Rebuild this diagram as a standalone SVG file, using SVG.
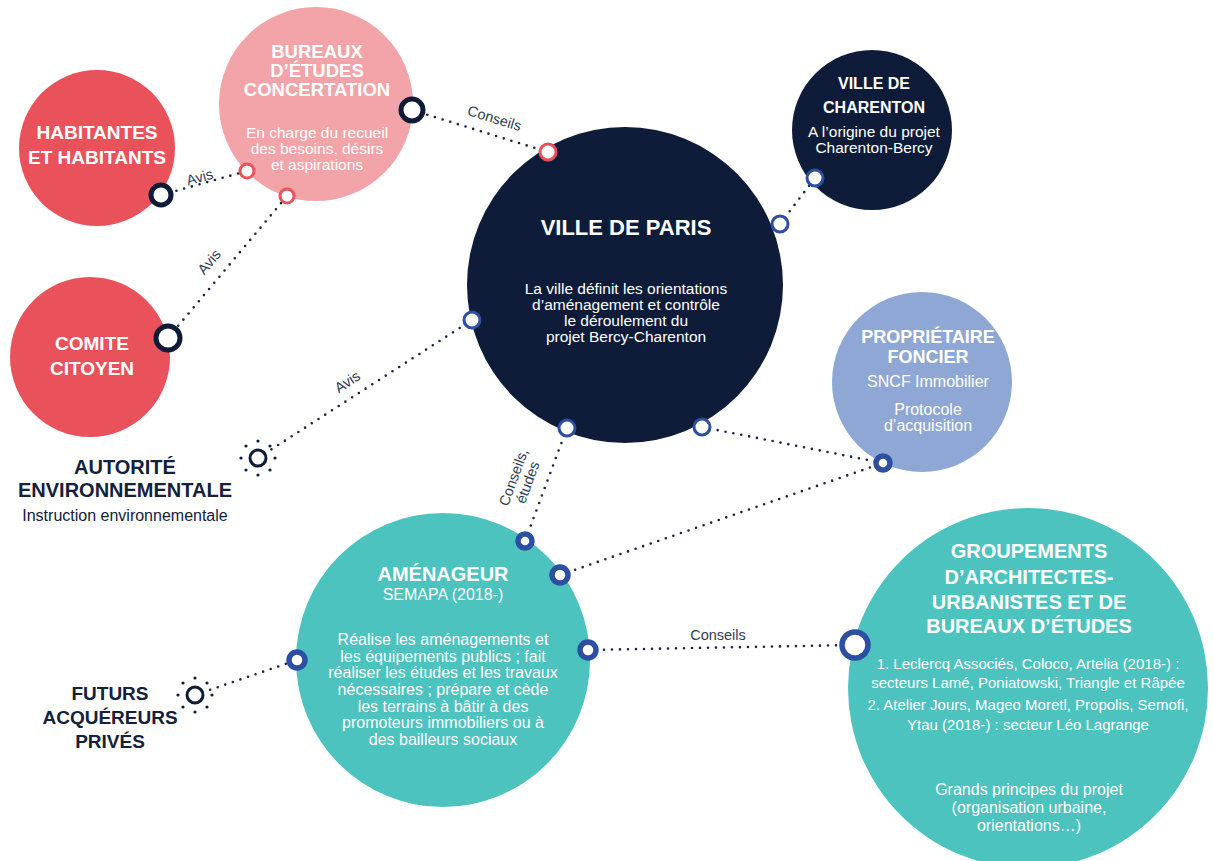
<svg xmlns="http://www.w3.org/2000/svg" width="1213" height="861" viewBox="0 0 1213 861">
<style>
text{font-family:"Liberation Sans",Arial,sans-serif;text-anchor:middle}
.h{font-weight:bold;fill:#fff}
.w{fill:#fff}
.d{font-weight:bold;fill:#13213d}
.dl{fill:#13213d}
.lab{fill:#2f3b55;font-size:14.5px}
.con{fill:none;stroke:#1a2440;stroke-width:2.6;stroke-linecap:round;stroke-dasharray:0 8}
.rd{fill:#fff;stroke:#0e1c3a;stroke-width:5}
.rr{fill:#fff;stroke:#e9515b;stroke-width:3}
.rb{fill:#fff;stroke:#2c4fa3;stroke-width:3}
.rbt{fill:#fff;stroke:#2c4fa3;stroke-width:5.5}
.rs{fill:#fff;stroke:#0e1c3a;stroke-width:3}
.dot{fill:#0e1c3a}
</style>
<rect width="1213" height="861" fill="#fff"/>
<g id="connectors">
<line class="con" x1="161" y1="195" x2="247" y2="171"/>
<line class="con" x1="168" y1="338" x2="287" y2="196"/>
<line class="con" x1="412" y1="110" x2="548" y2="152"/>
<line class="con" x1="780" y1="224" x2="815" y2="178"/>
<line class="con" x1="258" y1="458" x2="472" y2="320"/>
<line class="con" x1="567" y1="428" x2="525" y2="541"/>
<line class="con" x1="702" y1="427" x2="883" y2="463"/>
<line class="con" x1="560" y1="575" x2="883" y2="463"/>
<line class="con" x1="588" y1="650" x2="855" y2="645"/>
<line class="con" x1="195" y1="695" x2="297" y2="660"/>
<text class="lab" transform="translate(201,182) rotate(-15)">Avis</text>
<text class="lab" transform="translate(213,265) rotate(-50)">Avis</text>
<text class="lab" transform="translate(493,123) rotate(17)">Conseils</text>
<text class="lab" transform="translate(350,386) rotate(-33)">Avis</text>
<text class="lab" transform="translate(521,480) rotate(-70)"><tspan x="0" y="-3">Conseils,</tspan><tspan x="0" y="12">études</tspan></text>
<text class="lab" x="718" y="640">Conseils</text>
</g>
<g id="habitants">
<circle cx="97" cy="148" r="78" fill="#e9515b"/>
<text class="h" font-size="19"><tspan x="97" y="139">HABITANTES</tspan><tspan x="97" y="164">ET HABITANTS</tspan></text>
<circle class="rd" cx="161" cy="195" r="10"/>
</g>
<g id="bureaux">
<circle cx="316" cy="104" r="97" fill="#f2a4a8"/>
<text class="h" font-size="18.5"><tspan x="317" y="58">BUREAUX</tspan><tspan x="317" y="77">D’ÉTUDES</tspan><tspan x="317" y="96">CONCERTATION</tspan></text>
<text class="w" font-size="15.5"><tspan x="317" y="138">En charge du recueil</tspan><tspan x="317" y="154">des besoins, désirs</tspan><tspan x="317" y="170">et aspirations</tspan></text>
<circle class="rr" cx="247" cy="171" r="7"/>
<circle class="rr" cx="287" cy="196" r="7"/>
<circle class="rd" cx="412" cy="110" r="11"/>
</g>
<g id="comite">
<circle cx="90" cy="357" r="80" fill="#e9515b"/>
<text class="h" font-size="19"><tspan x="92" y="350">COMITE</tspan><tspan x="92" y="375">CITOYEN</tspan></text>
<circle class="rd" cx="168" cy="338" r="12"/>
</g>
<g id="paris">
<circle cx="625" cy="285" r="158" fill="#0e1c3a"/>
<text class="h" font-size="22" x="626" y="235">VILLE DE PARIS</text>
<text class="w" font-size="15.5"><tspan x="626" y="294">La ville définit les orientations</tspan><tspan x="626" y="310">d’aménagement et contrôle</tspan><tspan x="626" y="326">le déroulement du</tspan><tspan x="626" y="342">projet Bercy-Charenton</tspan></text>
<circle class="rr" cx="548" cy="152" r="8"/>
<circle class="rb" cx="780" cy="224" r="8"/>
<circle class="rb" cx="472" cy="320" r="8"/>
<circle class="rb" cx="567" cy="428" r="8"/>
<circle class="rb" cx="702" cy="427" r="8"/>
</g>
<g id="charenton">
<circle cx="872" cy="130" r="80" fill="#0e1c3a"/>
<text class="h" font-size="16"><tspan x="874" y="89">VILLE DE</tspan><tspan x="874" y="113">CHARENTON</tspan></text>
<text class="w" font-size="15.5"><tspan x="874" y="137">A l’origine du projet</tspan><tspan x="874" y="153">Charenton-Bercy</tspan></text>
<circle class="rb" cx="815" cy="178" r="8"/>
</g>
<g id="proprietaire">
<circle cx="922" cy="382" r="90" fill="#8fa7d4"/>
<text class="h" font-size="18"><tspan x="928" y="343">PROPRIÉTAIRE</tspan><tspan x="928" y="363">FONCIER</tspan></text>
<text class="w" font-size="16"><tspan x="928" y="387">SNCF Immobilier</tspan><tspan x="928" y="415">Protocole</tspan><tspan x="928" y="431">d’acquisition</tspan></text>
<circle class="rbt" cx="883" cy="463" r="7"/>
</g>
<g id="autorite">
<text class="d" font-size="20"><tspan x="125" y="474">AUTORITÉ</tspan><tspan x="125" y="497">ENVIRONNEMENTALE</tspan></text>
<text class="dl" font-size="16" x="125" y="521">Instruction environnementale</text>
<circle class="rs" cx="258" cy="458" r="8"/>
<g class="dot"><circle cx="275" cy="458" r="1.6"/><circle cx="270" cy="446" r="1.6"/><circle cx="258" cy="441" r="1.6"/><circle cx="246" cy="446" r="1.6"/><circle cx="241" cy="458" r="1.6"/><circle cx="246" cy="470" r="1.6"/><circle cx="258" cy="475" r="1.6"/><circle cx="270" cy="470" r="1.6"/></g>
</g>
<g id="amenageur">
<circle cx="443" cy="660" r="147" fill="#4cc3bf"/>
<text class="h" font-size="20" x="443" y="581">AMÉNAGEUR</text>
<text class="w" font-size="16" x="443" y="600">SEMAPA (2018-)</text>
<text class="w" font-size="16"><tspan x="443" y="645">Réalise les aménagements et</tspan><tspan x="443" y="662">les équipements publics ; fait</tspan><tspan x="443" y="678">réaliser les études et les travaux</tspan><tspan x="443" y="695">nécessaires ; prépare et cède</tspan><tspan x="443" y="712">les terrains à bâtir à des</tspan><tspan x="443" y="728">promoteurs immobiliers ou à</tspan><tspan x="443" y="745">des bailleurs sociaux</tspan></text>
<circle class="rbt" cx="525" cy="541" r="7"/>
<circle class="rbt" cx="560" cy="575" r="8"/>
<circle class="rbt" cx="588" cy="650" r="8"/>
<circle class="rbt" cx="297" cy="660" r="8"/>
</g>
<g id="groupements">
<circle cx="1028" cy="688" r="180" fill="#4cc3bf"/>
<text class="h" font-size="20"><tspan x="1029" y="558">GROUPEMENTS</tspan><tspan x="1029" y="584">D’ARCHITECTES-</tspan><tspan x="1029" y="609">URBANISTES ET DE</tspan><tspan x="1029" y="633">BUREAUX D’ÉTUDES</tspan></text>
<text class="w" font-size="15"><tspan x="1028" y="669">1. Leclercq Associés, Coloco, Artelia (2018-)  :</tspan><tspan x="1028" y="688">secteurs Lamé, Poniatowski, Triangle et Râpée</tspan><tspan x="1028" y="710">2. Atelier Jours, Mageo Moretl, Propolis, Semofi,</tspan><tspan x="1028" y="730">Ytau (2018-) : secteur Léo Lagrange</tspan></text>
<text class="w" font-size="16"><tspan x="1029" y="795">Grands principes du projet</tspan><tspan x="1029" y="813">(organisation urbaine,</tspan><tspan x="1029" y="831">orientations…)</tspan></text>
<circle class="rbt" cx="855" cy="645" r="13"/>
</g>
<g id="futurs">
<text class="d" font-size="19"><tspan x="110" y="700">FUTURS</tspan><tspan x="110" y="724">ACQUÉREURS</tspan><tspan x="110" y="748">PRIVÉS</tspan></text>
<circle class="rs" cx="195" cy="695" r="8"/>
<g class="dot"><circle cx="212" cy="695" r="1.6"/><circle cx="207" cy="683" r="1.6"/><circle cx="195" cy="678" r="1.6"/><circle cx="183" cy="683" r="1.6"/><circle cx="178" cy="695" r="1.6"/><circle cx="183" cy="707" r="1.6"/><circle cx="195" cy="712" r="1.6"/><circle cx="207" cy="707" r="1.6"/></g>
</g>
</svg>
